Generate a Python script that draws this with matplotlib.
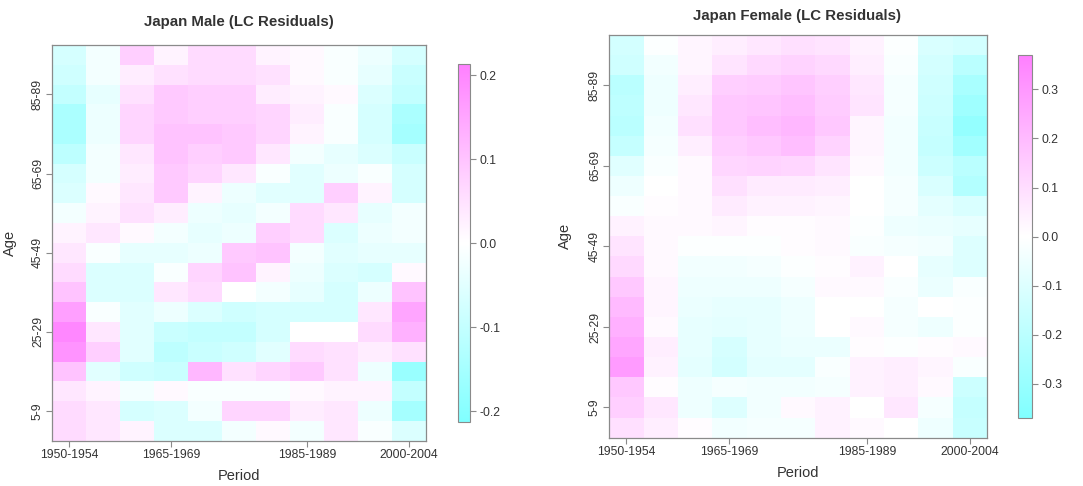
import numpy as np
import matplotlib

matplotlib.use("Agg")
import matplotlib.pyplot as plt
from matplotlib.colors import LinearSegmentedColormap, Normalize

plt.rcParams["font.family"] = ["Liberation Sans", "DejaVu Sans"]

INK = "#333333"
FRAME = "#8a8a8a"

periods = ["1950-1954", "1955-1959", "1960-1964", "1965-1969", "1970-1974",
           "1975-1979", "1980-1984", "1985-1989", "1990-1994", "1995-1999",
           "2000-2004"]
ages = ["0-4", "5-9", "10-14", "15-19", "20-24", "25-29", "30-34", "35-39",
        "40-44", "45-49", "50-54", "55-59", "60-64", "65-69", "70-74",
        "75-79", "80-84", "85-89", "90-94", "95-99"]
period_ticks = ["1950-1954", "1965-1969", "1985-1989", "2000-2004"]
age_ticks = ["5-9", "25-29", "45-49", "65-69", "85-89"]

# residuals, rows = age groups (youngest first), columns = periods
male_resid = [
    [0.06, 0.04, 0.02, -0.06, -0.06, -0.02, 0.01, -0.02, 0.04, -0.01, -0.06],
    [0.06, 0.04, -0.07, -0.06, -0.02, 0.07, 0.07, 0.03, 0.04, -0.03, -0.15],
    [0.04, 0.02, -0.02, 0.01, -0.01, -0.01, -0.01, 0.01, 0.02, 0.02, -0.10],
    [0.10, -0.05, -0.08, -0.09, 0.12, 0.05, 0.07, 0.09, 0.05, -0.03, -0.17],
    [0.18, 0.08, -0.05, -0.11, -0.09, -0.08, -0.05, 0.06, 0.05, 0.03, 0.05],
    [0.20, 0.04, -0.05, -0.09, -0.10, -0.10, -0.07, 0.00, 0.00, 0.06, 0.13],
    [0.16, -0.01, -0.05, -0.03, -0.06, -0.08, -0.07, -0.07, -0.07, 0.04, 0.15],
    [0.10, -0.06, -0.06, 0.04, 0.06, 0.00, -0.02, -0.04, -0.07, -0.03, 0.10],
    [0.06, -0.06, -0.06, -0.01, 0.07, 0.10, 0.02, -0.03, -0.06, -0.07, 0.01],
    [0.04, -0.01, -0.04, -0.04, -0.03, 0.09, 0.10, -0.02, -0.05, -0.04, -0.04],
    [0.02, 0.04, 0.01, -0.02, -0.04, -0.03, 0.08, 0.06, -0.06, -0.03, -0.02],
    [-0.02, 0.02, 0.05, 0.03, -0.03, -0.04, -0.02, 0.06, 0.04, -0.04, -0.02],
    [-0.06, 0.01, 0.04, 0.09, 0.02, -0.03, -0.05, -0.05, 0.08, 0.02, -0.07],
    [-0.07, -0.02, 0.03, 0.09, 0.07, 0.04, -0.01, -0.05, -0.03, -0.01, -0.07],
    [-0.11, -0.02, 0.04, 0.10, 0.08, 0.09, 0.04, -0.02, -0.04, -0.06, -0.09],
    [-0.14, -0.03, 0.07, 0.10, 0.10, 0.09, 0.07, 0.02, -0.01, -0.07, -0.15],
    [-0.14, -0.03, 0.07, 0.09, 0.08, 0.08, 0.07, 0.03, -0.01, -0.07, -0.14],
    [-0.10, -0.04, 0.05, 0.09, 0.08, 0.08, 0.03, 0.02, 0.01, -0.06, -0.10],
    [-0.08, -0.02, 0.03, 0.05, 0.06, 0.06, 0.05, 0.01, -0.01, -0.04, -0.09],
    [-0.07, -0.02, 0.08, 0.02, 0.06, 0.06, 0.02, 0.01, -0.01, -0.03, -0.07],
]

female_resid = [
    [0.09, 0.05, 0.01, -0.04, -0.03, -0.03, 0.04, 0.02, 0.00, -0.05, -0.16],
    [0.14, 0.07, -0.05, -0.10, -0.04, 0.02, 0.04, 0.00, 0.07, -0.03, -0.17],
    [0.16, 0.01, -0.05, -0.03, -0.04, -0.04, -0.03, 0.04, 0.05, 0.02, -0.15],
    [0.29, 0.04, -0.08, -0.13, -0.08, -0.08, -0.02, 0.04, 0.05, 0.03, -0.02],
    [0.26, 0.05, -0.07, -0.12, -0.07, -0.06, -0.06, 0.01, -0.01, 0.01, 0.02],
    [0.23, 0.02, -0.07, -0.08, -0.07, -0.05, 0.00, 0.02, -0.03, -0.05, -0.01],
    [0.20, 0.03, -0.06, -0.07, -0.07, -0.05, 0.00, 0.00, -0.03, 0.00, -0.01],
    [0.16, 0.03, -0.05, -0.05, -0.05, -0.03, 0.02, 0.02, -0.02, -0.06, -0.02],
    [0.11, 0.02, -0.04, -0.04, -0.03, -0.01, 0.01, 0.04, 0.00, -0.07, -0.10],
    [0.08, 0.02, -0.01, -0.01, -0.01, 0.01, 0.02, -0.02, -0.03, -0.04, -0.10],
    [0.04, 0.02, 0.02, 0.03, 0.01, 0.01, 0.02, -0.01, -0.05, -0.06, -0.07],
    [-0.02, 0.01, 0.02, 0.06, 0.04, 0.04, 0.03, 0.00, -0.03, -0.08, -0.11],
    [-0.05, 0.00, 0.02, 0.09, 0.06, 0.06, 0.05, 0.00, -0.03, -0.11, -0.22],
    [-0.09, -0.02, 0.02, 0.12, 0.13, 0.12, 0.08, 0.02, -0.04, -0.15, -0.20],
    [-0.17, -0.03, 0.05, 0.14, 0.16, 0.19, 0.13, 0.03, -0.04, -0.17, -0.27],
    [-0.20, -0.04, 0.09, 0.16, 0.19, 0.21, 0.16, 0.03, -0.04, -0.16, -0.31],
    [-0.19, -0.05, 0.07, 0.16, 0.17, 0.19, 0.15, 0.08, -0.03, -0.15, -0.28],
    [-0.20, -0.05, 0.05, 0.14, 0.15, 0.17, 0.14, 0.07, -0.03, -0.14, -0.25],
    [-0.14, -0.04, 0.03, 0.08, 0.11, 0.13, 0.11, 0.05, -0.02, -0.13, -0.20],
    [-0.13, -0.01, 0.03, 0.05, 0.07, 0.09, 0.08, 0.04, -0.01, -0.11, -0.13],
]

male_ticks = [-0.2, -0.1, 0.0, 0.1, 0.2]
female_ticks = [-0.3, -0.2, -0.1, 0.0, 0.1, 0.2, 0.3]

# R's cm.colors: light cyan -> white -> light magenta
cmap = LinearSegmentedColormap.from_list("cm", ["#80FFFF", "#FFFFFF", "#FF80FF"])


def style_frame(ax):
    for s in ax.spines.values():
        s.set_color(FRAME)
        s.set_linewidth(0.9)


def panel(fig, rect, cbrect, data, lim, cticks, title, title_xy, age_x):
    ax = fig.add_axes(rect)
    cax = fig.add_axes(cbrect)
    data = np.array(data)
    norm = Normalize(vmin=-lim, vmax=lim)
    mesh = ax.pcolormesh(np.arange(len(periods) + 1), np.arange(len(ages) + 1),
                         data, cmap=cmap, norm=norm, shading="flat")
    ax.set_xticks([periods.index(p) + 0.5 for p in period_ticks])
    ax.set_xticklabels(period_ticks)
    ax.set_yticks([ages.index(a) + 0.5 for a in age_ticks])
    ax.set_yticklabels(age_ticks, rotation=90, va="center")
    ax.tick_params(colors=FRAME, labelcolor=INK, labelsize=8.7, length=4,
                   width=0.8, pad=2)
    ax.set_xlabel("Period", fontsize=10.5, color=INK, labelpad=6)
    ax.set_ylabel("Age", fontsize=10.5, color=INK)
    ax.yaxis.set_label_coords(age_x, 0.5)
    style_frame(ax)

    cb = fig.colorbar(mesh, cax=cax, ticks=cticks)
    cb.ax.set_yticklabels([f"{t:.1f}" for t in cticks])
    cb.ax.tick_params(colors=FRAME, labelcolor=INK, labelsize=8.7, length=4,
                      width=0.8, pad=3)
    cb.outline.set_edgecolor(FRAME)
    cb.outline.set_linewidth(0.8)

    fig.text(title_xy[0], title_xy[1], title, ha="center", va="center",
             fontsize=10.8, fontweight="bold", color=INK)


fig = plt.figure(figsize=(10.83, 4.86), dpi=100)

panel(fig, [0.0483, 0.0932, 0.3448, 0.8142], [0.4226, 0.1311, 0.0114, 0.7366],
      male_resid, 0.213, male_ticks, "Japan Male (LC Residuals)",
      (0.2207, 0.955), -0.095)
panel(fig, [0.5626, 0.0994, 0.3488, 0.8286], [0.9403, 0.1393, 0.0124, 0.7475],
      female_resid, 0.37, female_ticks, "Japan Female (LC Residuals)",
      (0.736, 0.968), -0.098)

fig.savefig("out.png", dpi=100, facecolor="white")
